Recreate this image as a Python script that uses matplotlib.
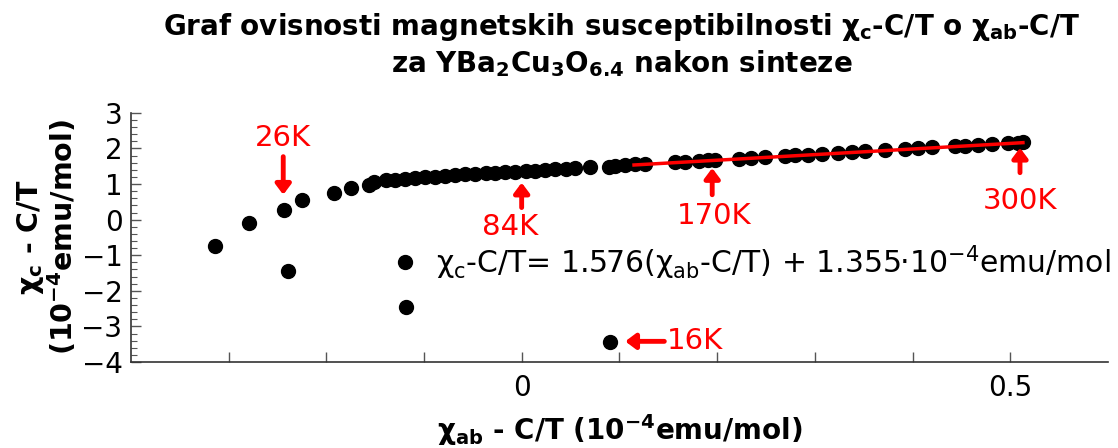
import numpy as np
import matplotlib
matplotlib.use("Agg")
import matplotlib.pyplot as plt

plt.rcParams['font.family'] = ['DejaVu Sans']
plt.rcParams['mathtext.fontset'] = 'dejavusans'

# chi_ab - C/T  vs  chi_c - C/T   (10^-4 emu/mol)
x_low = [0.090, -0.118, -0.119, -0.239, -0.314, -0.279, -0.243, -0.225, -0.192, -0.175, -0.156, -0.151, -0.139]
y_low = [-3.43, -2.45, -1.18, -1.43, -0.74, -0.10, 0.27, 0.55, 0.74, 0.89, 0.98, 1.06, 1.12]

x_mid = [-0.130, -0.119, -0.109, -0.099, -0.089, -0.078, -0.068, -0.058, -0.048, -0.037, -0.027,
         -0.017, -0.007, 0.004, 0.014, 0.024, 0.034, 0.045, 0.055, 0.070, 0.089]
y_mid = [1.12, 1.15, 1.17, 1.19, 1.21, 1.23, 1.25, 1.27, 1.29, 1.31, 1.32,
         1.34, 1.35, 1.36, 1.38, 1.40, 1.41, 1.43, 1.44, 1.47, 1.49]

x_high = [0.096, 0.106, 0.116, 0.126, 0.157, 0.167, 0.181, 0.191, 0.198, 0.222, 0.235, 0.249, 0.270,
          0.280, 0.293, 0.307, 0.324, 0.338, 0.351, 0.372, 0.392, 0.406, 0.420, 0.443, 0.454, 0.467,
          0.481, 0.498, 0.508, 0.513]
y_high = [1.52, 1.53, 1.55, 1.56, 1.61, 1.62, 1.65, 1.67, 1.68, 1.71, 1.74, 1.76, 1.79,
          1.81, 1.83, 1.85, 1.88, 1.90, 1.92, 1.95, 1.98, 2.01, 2.03, 2.06, 2.08, 2.10,
          2.12, 2.15, 2.16, 2.17]

fit_slope = 1.576
fit_intercept = 1.355
fit_x = [0.115, 0.513]

# temperature markers: label, arrow tip, arrow tail, text position
temp_labels = ["26K", "84K", "170K", "300K", "16K"]
arrow_tips = [(-0.244, 0.70), (0.0, 1.04), (0.195, 1.45), (0.510, 2.02), (0.106, -3.42)]
arrow_tails = [(-0.244, 1.77), (0.0, 0.34), (0.195, 0.70), (0.510, 1.32), (0.146, -3.42)]
text_pos = [(-0.244, 2.30), (-0.012, -0.21), (0.197, 0.10), (0.510, 0.52), (0.149, -3.42)]
text_ha = ["center", "center", "center", "center", "left"]

xs = np.array(x_low + x_mid + x_high)
ys = np.array(y_low + y_mid + y_high)

fig = plt.figure(figsize=(11.18, 4.48), dpi=100)
ax = fig.add_axes([0.117, 0.192, 0.874, 0.556])

ax.plot(xs, ys, "o", color="black", markersize=10, zorder=2)
fx = np.array(fit_x)
ax.plot(fx, fit_slope * fx + fit_intercept, color="red", lw=2.5, zorder=3)

for lab, tip, tail, pos, ha in zip(temp_labels, arrow_tips, arrow_tails, text_pos, text_ha):
    ax.annotate("", xy=tip, xytext=tail,
                arrowprops=dict(arrowstyle="-|>,head_length=0.6,head_width=0.45", color="red", lw=3.5,
                                shrinkA=0, shrinkB=0), zorder=4)
    ax.text(pos[0], pos[1], lab, color="red", fontsize=21, ha=ha, va="center", zorder=4)

ax.text(-0.088, -1.20,
        "χ$_\\mathregular{c}$-C/T= 1.576(χ$_\\mathregular{ab}$-C/T) + 1.355·10$^{-4}$emu/mol",
        fontsize=21.5, ha="left", va="center")

ax.set_xlim(-0.4, 0.6)
ax.set_ylim(-4, 3)
ax.spines["top"].set_visible(False)
ax.spines["right"].set_visible(False)
for s in ("left", "bottom"):
    ax.spines[s].set_color("#333333")
    ax.spines[s].set_linewidth(1.2)

xt = [-0.3, -0.2, -0.1, 0.0, 0.1, 0.2, 0.3, 0.4, 0.5]
ax.set_xticks(xt)
ax.set_xticklabels(["", "", "", "0", "", "", "", "", "0.5"])
ax.set_yticks(range(-4, 4))
ax.set_yticklabels(["\u22124", "\u22123", "\u22122", "\u22121", "0", "1", "2", "3"])
ax.set_yticks(np.arange(-4, 3.01, 0.2), minor=True)
ax.tick_params(axis="both", which="major", direction="in", length=7, width=1, color="#555555",
               labelsize=20, pad=6)
ax.tick_params(axis="y", which="minor", direction="in", length=4, width=0.8, color="#555555")
ax.tick_params(axis="x", pad=9)

ax.set_xlabel("χ$_\\mathbf{ab}$ - C/T (10$^\\mathbf{-4}$emu/mol)", fontsize=20, fontweight="bold")
ax.xaxis.set_label_coords(0.5, -0.2)
ax.set_ylabel("χ$_\\mathbf{c}$ - C/T\n(10$^\\mathbf{-4}$emu/mol)", fontsize=20.5, fontweight="bold",
              linespacing=1.0)
ax.yaxis.set_label_coords(-0.053, 0.5)

fig.text(0.556, 0.975,
         "Graf ovisnosti magnetskih susceptibilnosti χ$_\\mathbf{c}$-C/T o χ$_\\mathbf{ab}$-C/T"
         "\nza YBa$_\\mathbf{2}$Cu$_\\mathbf{3}$O$_\\mathbf{6.4}$ nakon sinteze",
         fontsize=20, fontweight="bold", ha="center", va="top", linespacing=1.2)

fig.savefig("out.png", dpi=100)
